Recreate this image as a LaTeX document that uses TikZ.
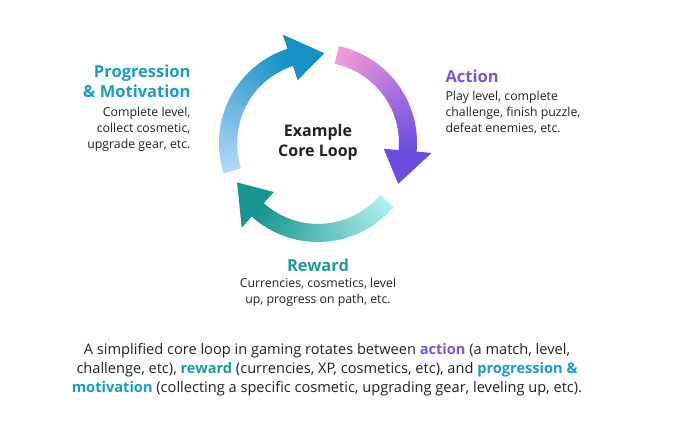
\documentclass[tikz,border=0pt]{standalone}
\usepackage{fontspec}
\setmainfont{Open Sans}
\definecolor{pinkS}{HTML}{F49BD8}
\definecolor{pinkE}{HTML}{6A4DE0}
\definecolor{tealS}{HTML}{B0F0EE}
\definecolor{tealE}{HTML}{17958F}
\definecolor{blueS}{HTML}{B2D8F8}
\definecolor{blueE}{HTML}{1590C4}
\definecolor{progC}{HTML}{1B9CC6}
\definecolor{actC}{HTML}{7B56D8}
\definecolor{rewC}{HTML}{1C9E98}
\definecolor{txt}{HTML}{1E2328}
\newcommand{\gradarc}[5]{% start, base, tip, c1, c2
  \foreach \i in {0,...,39}{
    \pgfmathsetmacro\aa{#1+(#2-#1)*\i/40}
    \pgfmathsetmacro\ab{#1+(#2-#1)*(\i+1.3)/40}
    \pgfmathsetmacro\pc{100-100*\i/39}
    \draw[line width=18pt,color=#4!\pc!#5]
      ({318+90*cos(\aa)},{143-90*sin(\aa)}) -- ({318+90*cos(\ab)},{143-90*sin(\ab)});
  }
  \fill[#5] ({318+114*cos(#2)},{143-114*sin(#2)}) -- ({318+66*cos(#2)},{143-66*sin(#2)})
     -- ({318+90*cos(#3)},{143-90*sin(#3)}) -- cycle;
}
\tikzset{
  head/.style={font=\bfseries\fontsize{16.5}{20}\selectfont},
  body/.style={font=\fontsize{12.3}{16}\selectfont,text=txt},
}
\begin{document}
\begin{tikzpicture}[x=1pt,y=-1pt]
\useasboundingbox[fill=white] (0,0) rectangle (676,430);
\gradarc{78}{-5}{-27}{pinkS}{pinkE}
\gradarc{-40}{-132}{-154}{tealS}{tealE}
\gradarc{198}{108}{86}{blueS}{blueE}
\node[font=\bfseries\fontsize{16}{20}\selectfont,text=txt,align=center] (core) at (318,142) {Example\\Core Loop};
\node[head,text=progC,align=right,anchor=north east] (prog) at (194,61) {Progression\\\& Motivation};
\node[body,align=right,anchor=north east] (progb) at (194,104) {Complete level,\\collect cosmetic,\\upgrade gear, etc.};
\node[head,text=actC,anchor=north west] (act) at (442,66) {Action};
\node[body,align=left,anchor=north west] (actb) at (442,88) {Play level, complete\\challenge, finish puzzle,\\defeat enemies, etc.};
\node[head,text=rewC] (rew) at (318,265) {Reward};
\node[body,align=center,anchor=north] (rewb) at (318,275) {Currencies, cosmetics, level\\up, progress on path, etc.};
\node[font=\fontsize{14.6}{19}\selectfont,text=txt,align=center] (cap) at (327,370) {A simplified core loop in gaming rotates between \textcolor{actC}{\bfseries action} (a match, level,\\challenge, etc), \textcolor{rewC}{\bfseries reward} (currencies, XP, cosmetics, etc), and \textcolor{progC}{\bfseries progression \&}\\\textcolor{progC}{\bfseries motivation} (collecting a specific cosmetic, upgrading gear, leveling up, etc).};
\end{tikzpicture}
\end{document}
